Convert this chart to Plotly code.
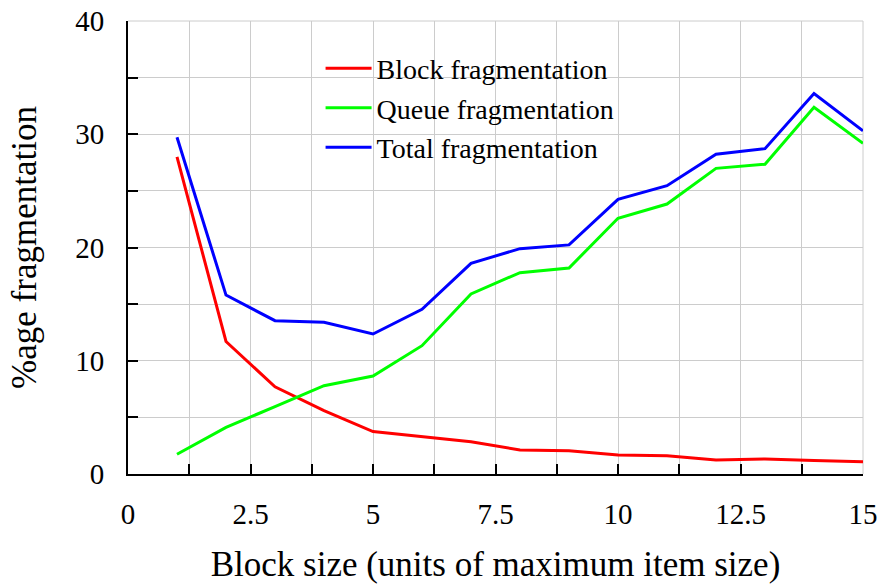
import plotly.graph_objects as go

block_size = [1, 2, 3, 4, 5, 6, 7, 8, 9, 10, 11, 12, 13, 14, 15]
block_frag = [28.0, 11.7, 7.7, 5.6, 3.75, 3.3, 2.85, 2.12, 2.06, 1.68, 1.62, 1.24, 1.32, 1.2, 1.09]
queue_frag = [1.74, 4.12, 5.95, 7.8, 8.65, 11.33, 15.9, 17.78, 18.19, 22.58, 23.84, 26.99, 27.35, 32.38, 29.2]
total_frag = [29.73, 15.8, 13.54, 13.39, 12.36, 14.54, 18.6, 19.9, 20.23, 24.25, 25.46, 28.23, 28.73, 33.6, 30.3]

x_tickvals = [0, 1.25, 2.5, 3.75, 5, 6.25, 7.5, 8.75, 10, 11.25, 12.5, 13.75, 15]
x_ticktext = ["0", "", "2.5", "", "5", "", "7.5", "", "10", "", "12.5", "", "15"]
y_tickvals = [0, 5, 10, 15, 20, 25, 30, 35, 40]
y_ticktext = ["0", "", "10", "", "20", "", "30", "", "40"]

FONT = "Liberation Serif"
fig = go.Figure()
fig.add_trace(go.Scatter(x=block_size, y=block_frag, mode="lines", name="Block fragmentation",
                         line=dict(color="#ff0000", width=3)))
fig.add_trace(go.Scatter(x=block_size, y=queue_frag, mode="lines", name="Queue fragmentation",
                         line=dict(color="#00ff00", width=3)))
fig.add_trace(go.Scatter(x=block_size, y=total_frag, mode="lines", name="Total fragmentation",
                         line=dict(color="#0000ff", width=3)))

fig.update_layout(
    width=881, height=584,
    margin=dict(l=128, r=18, t=21, b=110, autoexpand=False),
    paper_bgcolor="white", plot_bgcolor="white",
    font=dict(family=FONT, size=29, color="black"),
    showlegend=True,
    legend=dict(x=0.262, y=0.95, xanchor="left", yanchor="top",
                bgcolor="rgba(0,0,0,0)", borderwidth=0,
                font=dict(family=FONT, size=28), itemwidth=46,
                tracegroupgap=0),
    xaxis=dict(range=[0, 15], tickmode="array", tickvals=x_tickvals, ticktext=x_ticktext,
               ticks="inside", ticklen=10, tickwidth=1.5, tickcolor="black",
               showgrid=True, gridcolor="#cccccc", gridwidth=1,
               showline=True, linecolor="black", linewidth=2,
               zeroline=False, mirror=False, automargin=False,
               title=dict(text="Block size (units of maximum item size)", standoff=32),
               ticklabelstandoff=13),
    yaxis=dict(range=[0, 40], tickmode="array", tickvals=y_tickvals, ticktext=y_ticktext,
               ticks="inside", ticklen=10, tickwidth=1.5, tickcolor="black",
               showgrid=True, gridcolor="#cccccc", gridwidth=1,
               showline=True, linecolor="black", linewidth=2,
               zeroline=False, mirror=False, automargin=False,
               title=dict(text="%age fragmentation", standoff=28),
               ticklabelstandoff=16),
)
fig.add_shape(type="line", xref="paper", yref="paper", x0=0, x1=1, y0=1, y1=1,
              line=dict(color="#cccccc", width=1), layer="below")
fig.add_shape(type="line", xref="paper", yref="paper", x0=1, x1=1, y0=0, y1=1,
              line=dict(color="#cccccc", width=1), layer="below")

fig.write_html("out.html")
